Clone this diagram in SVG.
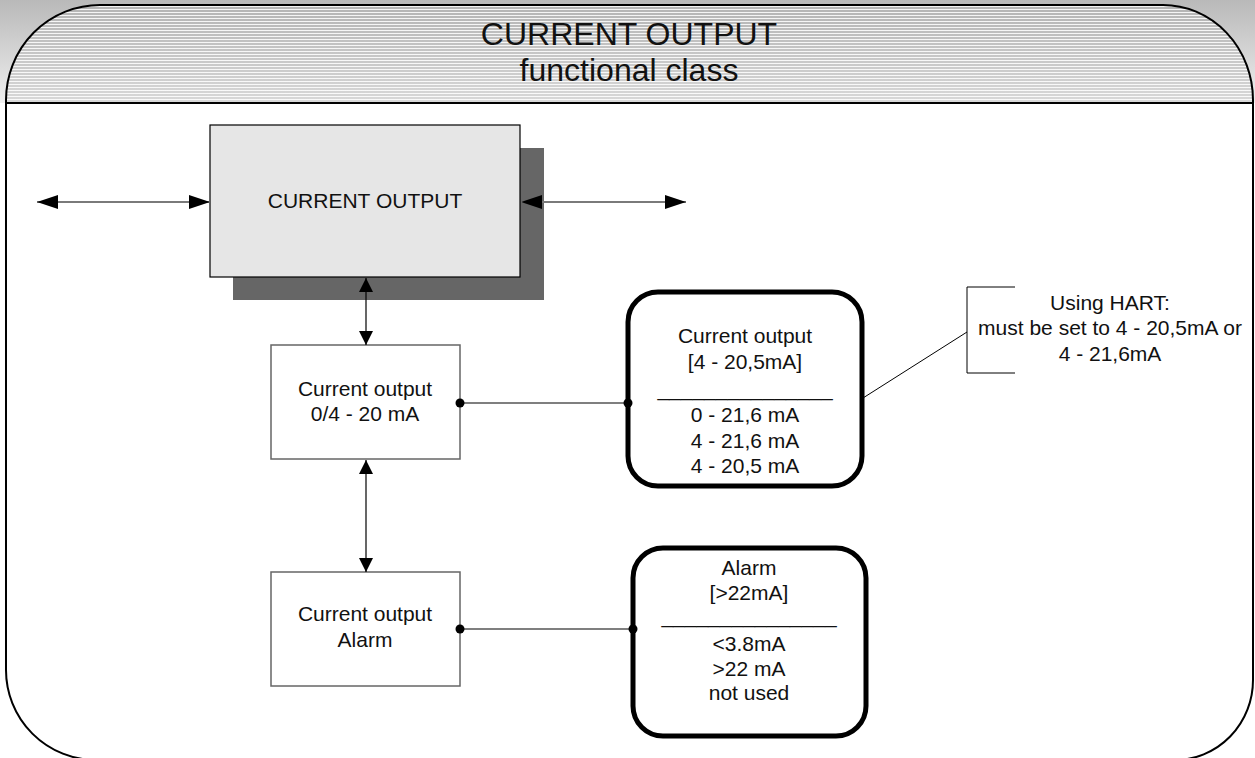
<svg xmlns="http://www.w3.org/2000/svg" width="1255" height="758" viewBox="0 0 1255 758">
<style>
  text { font-family: "Liberation Sans", Arial, sans-serif; fill: #111; text-anchor: middle; }
  .title { font-size: 32px; }
  .lbl { font-size: 21px; }
  .box { fill: #ffffff; stroke: #666; stroke-width: 1.5; }
  .rbox { fill: #ffffff; stroke: #000; stroke-width: 5; }
  .harrow { stroke: #7a7a7a; stroke-width: 2; fill: none; }
  .varrow { stroke: #000; stroke-width: 1.2; fill: none; }
  .wire { stroke: #000; stroke-width: 1.2; fill: none; }
  .dot { fill: #000; }
</style>
<defs>
  <linearGradient id="bgGrad" x1="0" y1="0" x2="0" y2="1">
    <stop offset="0" stop-color="#b9b9b9"/>
    <stop offset="1" stop-color="#efefef"/>
  </linearGradient>
  <linearGradient id="hdrGrad" x1="0" y1="0" x2="0" y2="1">
    <stop offset="0" stop-color="#b4b4b4"/>
    <stop offset="1" stop-color="#d8d8d8"/>
  </linearGradient>
  <pattern id="stripes" x="0" y="0" width="10" height="3" patternUnits="userSpaceOnUse">
    <rect x="0" y="0" width="10" height="1" fill="#ffffff" fill-opacity="0.85"/>
  </pattern>
  <marker id="bigHead" markerWidth="21" markerHeight="14" refX="21" refY="7" orient="auto-start-reverse" markerUnits="userSpaceOnUse">
    <path d="M0,0 L21,7 L0,14 Z" fill="#000"/>
  </marker>
  <marker id="smallHead" markerWidth="14" markerHeight="14" refX="14" refY="7" orient="auto-start-reverse" markerUnits="userSpaceOnUse">
    <path d="M0,0 L14,7 L0,14 Z" fill="#000"/>
  </marker>
</defs>

<g id="frame">
  <rect x="0" y="0" width="1255" height="103" fill="url(#bgGrad)"/>
  <path d="M6,103 L6,100 A94,95 0 0 1 100,5 L1163,5 A90,95 0 0 1 1253,100 L1253,103 Z" fill="url(#hdrGrad)"/>
  <path d="M6,103 L6,100 A94,95 0 0 1 100,5 L1163,5 A90,95 0 0 1 1253,100 L1253,103 Z" fill="url(#stripes)"/>
  <rect x="6" y="103" width="1247" height="660" fill="#fff"/>
  <path d="M6,100 A94,95 0 0 1 100,5 L1163,5 A90,95 0 0 1 1253,100 L1253,680 A78,80 0 0 1 1175,760 L96,760 A90,90 0 0 1 6,670 Z" fill="none" stroke="#000" stroke-width="2"/>
  <line x1="6" y1="103" x2="1253" y2="103" stroke="#000" stroke-width="2"/>
  <text class="title" x="629" y="45">CURRENT OUTPUT</text>
  <text class="title" x="629" y="81">functional class</text>
</g>

<g id="main-box">
  <rect x="233" y="148" width="311" height="152" fill="#666"/>
  <rect x="210" y="125" width="310" height="152" fill="#e6e6e6" stroke="#000" stroke-width="1.2"/>
  <text class="lbl" x="365" y="208">CURRENT OUTPUT</text>
</g>

<g id="current-output-box">
  <rect class="box" x="271" y="345" width="189" height="114"/>
  <text class="lbl" x="365" y="396">Current output</text>
  <text class="lbl" x="365" y="421">0/4 - 20 mA</text>
</g>

<g id="alarm-box">
  <rect class="box" x="271" y="572" width="189" height="114"/>
  <text class="lbl" x="365" y="621">Current output</text>
  <text class="lbl" x="365" y="647">Alarm</text>
</g>

<g id="range-box">
  <rect class="rbox" x="628" y="292" width="234" height="194" rx="30" ry="30"/>
  <text class="lbl" x="745" y="343">Current output</text>
  <text class="lbl" x="745" y="369">[4 - 20,5mA]</text>
  <text class="lbl" x="745" y="396">_______________</text>
  <text class="lbl" x="745" y="422">0 - 21,6 mA</text>
  <text class="lbl" x="745" y="448">4 - 21,6 mA</text>
  <text class="lbl" x="745" y="473">4 - 20,5 mA</text>
</g>

<g id="alarm-value-box">
  <rect class="rbox" x="633" y="548" width="233" height="188" rx="30" ry="30"/>
  <text class="lbl" x="749" y="575">Alarm</text>
  <text class="lbl" x="749" y="600">[&gt;22mA]</text>
  <text class="lbl" x="749" y="623">_______________</text>
  <text class="lbl" x="749" y="651">&lt;3.8mA</text>
  <text class="lbl" x="749" y="676">&gt;22 mA</text>
  <text class="lbl" x="749" y="700">not used</text>
</g>

<g id="hart-note">
  <polyline points="1015,287 967,287 967,373 1015,373" fill="none" stroke="#000" stroke-width="1"/>
  <text class="lbl" x="1110" y="310">Using HART:</text>
  <text class="lbl" x="1110" y="335">must be set to 4 - 20,5mA or</text>
  <text class="lbl" x="1110" y="361">4 - 21,6mA</text>
</g>

<g id="connectors">
  <line class="harrow" x1="37" y1="202" x2="210" y2="202" marker-start="url(#bigHead)" marker-end="url(#bigHead)"/>
  <line class="harrow" x1="521" y1="202" x2="686" y2="202" marker-start="url(#bigHead)" marker-end="url(#bigHead)"/>
  <line class="varrow" x1="366" y1="278" x2="366" y2="345" marker-start="url(#smallHead)" marker-end="url(#smallHead)"/>
  <line class="varrow" x1="366" y1="460" x2="366" y2="572" marker-start="url(#smallHead)" marker-end="url(#smallHead)"/>
  <line class="wire" x1="460" y1="403" x2="628" y2="403"/>
  <circle class="dot" cx="460" cy="403" r="4.5"/>
  <circle class="dot" cx="628" cy="403" r="4.5"/>
  <line class="wire" x1="460" y1="629" x2="633" y2="629"/>
  <circle class="dot" cx="460" cy="629" r="4.5"/>
  <circle class="dot" cx="633" cy="629" r="4.5"/>
  <line x1="863" y1="398" x2="967" y2="332" stroke="#000" stroke-width="1"/>
</g>
</svg>
